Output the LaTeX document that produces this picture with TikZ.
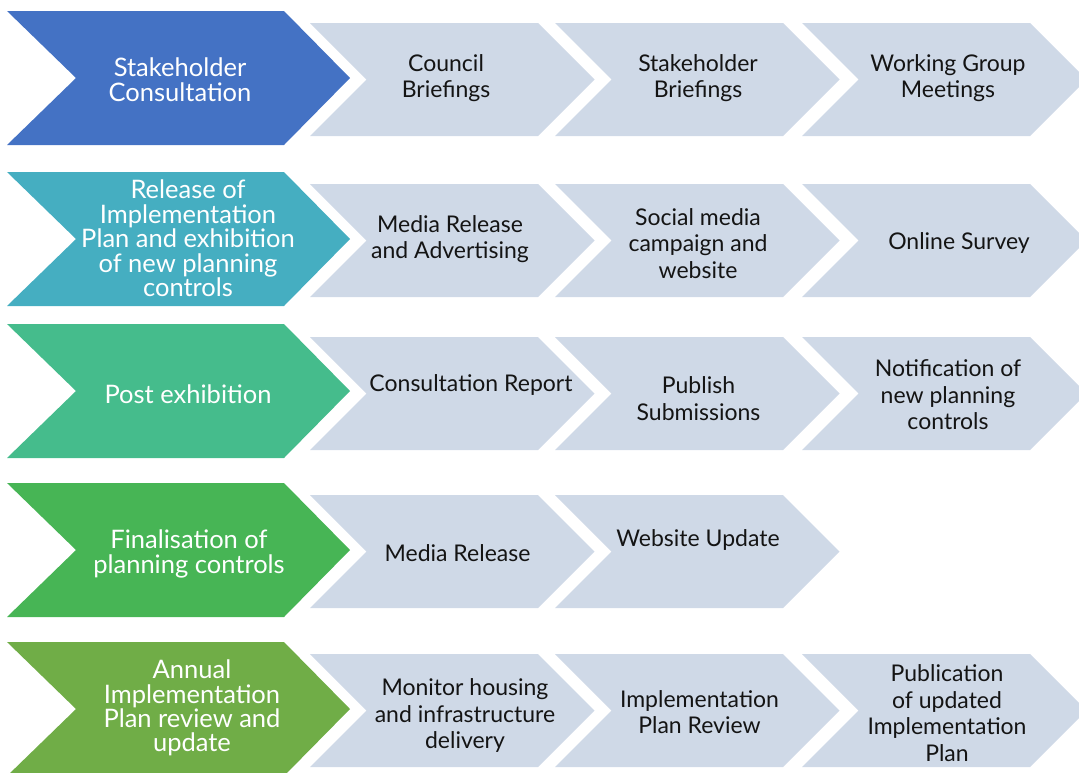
\documentclass[tikz,border=0pt]{standalone}
\usepackage{fontspec}
\setmainfont{Lato}
\definecolor{cBlue}{HTML}{4472C4}
\definecolor{cTeal}{HTML}{45AEC1}
\definecolor{cSea}{HTML}{45BC8C}
\definecolor{cGreen}{HTML}{47B555}
\definecolor{cOlive}{HTML}{70AD47}
\definecolor{cGrey}{HTML}{CFD9E7}
\definecolor{cInk}{HTML}{141414}
\tikzset{
  bigtext/.style={text=white, align=center, font=\fontsize{25.5}{24.4}\selectfont, inner sep=0pt},
  smalltext/.style={text=cInk, align=center, font=\fontsize{23}{26.5}\selectfont, inner sep=0pt, yshift=-2pt},
}
\newcommand\BigChev[2]{\fill[#2] (7,#1) -- ++(277,0) -- ++(66,67) -- ++(-66,67) -- ++(-277,0) -- ++(69,-67) -- cycle;}
\newcommand\SmallChev[2]{\fill[cGrey] (#1,#2) -- ++(228,0) -- ++(56.5,56.5) -- ++(-56.5,56.5) -- ++(-228,0) -- ++(56.5,-56.5) -- cycle;}
\begin{document}
\begin{tikzpicture}[x=1pt,y=-1pt]
\useasboundingbox (0,0) rectangle (1079,772);
\clip (0,0) rectangle (1079,772);
% row 1
\BigChev{11}{cBlue}
\SmallChev{310}{23}\SmallChev{555}{23}\SmallChev{802}{23}
\node[bigtext] (b1) at (180,79.5) {Stakeholder\\[0.6pt]Consultation};
\node[smalltext] (s11) at (446,76) {Council\\Briefings};
\node[smalltext] (s12) at (698,76) {Stakeholder\\Briefings};
\node[smalltext] (s13) at (948,76) {Working Group\\Meetings};
% row 2
\BigChev{172}{cTeal}
\SmallChev{310}{184}\SmallChev{555}{184}\SmallChev{802}{184}
\node[bigtext] (b2) at (188,238.5) {Release of\\Implementation\\Plan and exhibition\\of new planning\\controls};
\node[smalltext] (s21) at (450,237) {Media Release\\and Advertising};
\node[smalltext] (s22) at (698,241.5) {Social media\\campaign and\\website};
\node[smalltext] (s23) at (959,241) {Online Survey};
% row 3
\BigChev{324}{cSea}
\SmallChev{310}{337}\SmallChev{555}{337}\SmallChev{802}{337}
\node[bigtext] (b3) at (188,394) {Post exhibition};
\node[smalltext] (s31) at (471,383) {Consultation Report};
\node[smalltext] (s32) at (698.5,396.5) {Publish\\Submissions};
\node[smalltext] (s33) at (948,393) {Notification of\\new planning\\controls};
% row 4
\BigChev{483}{cGreen}
\SmallChev{310}{495}\SmallChev{555}{495}
\node[bigtext] (b4) at (189,554) {Finalisation of\\planning controls};
\node[smalltext] (s41) at (457.5,551) {Media Release};
\node[smalltext] (s42) at (698,538) {Website Update};
% row 5
\BigChev{642}{cOlive}
\SmallChev{310}{654}\SmallChev{555}{654}\SmallChev{802}{654}
\node[bigtext] (b5) at (192,708) {Annual\\Implementation\\Plan review and\\update};
\node[smalltext] (s51) at (465,713.5) {Monitor housing\\and infrastructure\\delivery};
\node[smalltext] (s52) at (699.5,710) {Implementation\\Plan Review};
\node[smalltext] (s53) at (947,711) {Publication\\of updated\\Implementation\\Plan};
\end{tikzpicture}
\end{document}
